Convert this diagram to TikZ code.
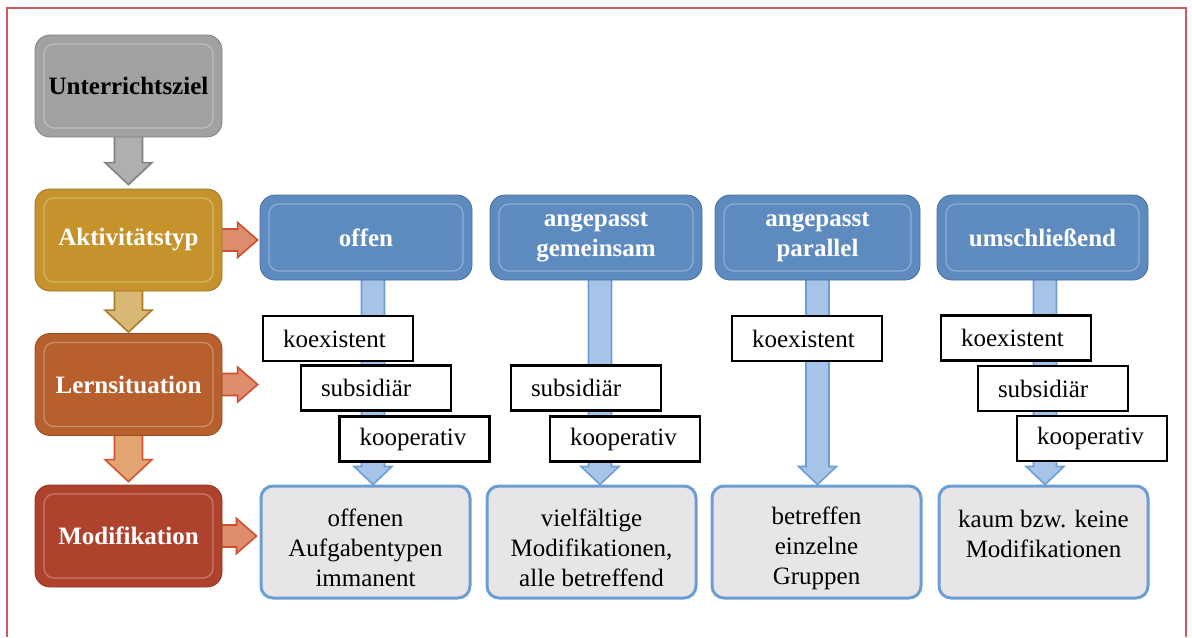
\documentclass[tikz,border=0pt]{standalone}
\usepackage{fontspec}
\setmainfont{Liberation Serif}
\usetikzlibrary{calc,backgrounds}

\definecolor{zielgray}{RGB}{161,161,161}
\definecolor{aktgold}{RGB}{197,146,43}
\definecolor{lernorange}{RGB}{183,96,46}
\definecolor{modred}{RGB}{174,66,45}
\definecolor{headblue}{RGB}{93,139,192}
\definecolor{resgray}{RGB}{231,229,231}
\definecolor{resblue}{RGB}{108,158,214}
\definecolor{arrblue}{RGB}{166,196,232}
\definecolor{arrsalmon}{RGB}{222,142,108}
\definecolor{arrred}{RGB}{206,78,48}
\definecolor{arrorange}{RGB}{226,164,112}
\definecolor{framered}{RGB}{205,90,95}

\newcommand{\figfont}{\fontsize{12.5pt}{15pt}\selectfont}

% block arrows: {style}{from}{to}{half shaft}{half head}{head length}
\newcommand{\blockdown}[6]{%
  \draw[#1] let \p1=#2, \p2=#3 in
    (\x1-#4,\y1) -- (\x1-#4,\y2+#6) -- (\x1-#5,\y2+#6) -- (\x1,\y2)
    -- (\x1+#5,\y2+#6) -- (\x1+#4,\y2+#6) -- (\x1+#4,\y1) -- cycle;}
\newcommand{\blockright}[6]{%
  \draw[#1] let \p1=#2, \p2=#3 in
    (\x1,\y1+#4) -- (\x2-#6,\y1+#4) -- (\x2-#6,\y1+#5) -- (\x2,\y1)
    -- (\x2-#6,\y1-#5) -- (\x2-#6,\y1-#4) -- (\x1,\y1-#4) -- cycle;}

\tikzset{
  bevel/.style={path picture={
    \draw[white, opacity=0.3, line width=0.6pt, rounded corners=5pt]
      ([shift={(4.5pt,-4.5pt)}]path picture bounding box.north west) rectangle
      ([shift={(-4.5pt,4.5pt)}]path picture bounding box.south east);}},
  stage/.style={fill=#1, draw=#1!80!black, rounded corners=7.5pt,
    minimum width=93.5pt, minimum height=51pt, font=\figfont\bfseries,
    text=white, bevel},
  header/.style={fill=headblue, draw=headblue!80!black, rounded corners=7.5pt,
    minimum width=106pt, minimum height=42.5pt, font=\figfont\bfseries,
    text=white, align=center, bevel},
  result/.style={fill=resgray, draw=resblue, line width=1.5pt, rounded corners=6pt,
    minimum width=104.5pt, minimum height=56pt, align=center, font=\figfont},
  tag/.style={draw=black, line width=1.2pt, fill=white, text width=55pt,
    align=left, inner xsep=10pt, minimum height=22.5pt, font=\figfont},
  grayarr/.style={fill=zielgray!85!white, draw=zielgray!80!black, line width=0.8pt},
  goldarr/.style={fill=aktgold!65!white, draw=aktgold!85!black, line width=0.8pt},
  orangearr/.style={fill=arrorange, draw=arrred!90!orange, line width=0.8pt},
  sidearr/.style={fill=arrsalmon, draw=arrred, line width=0.8pt},
  bluearr/.style={fill=arrblue, draw=resblue, line width=0.8pt},
}

\begin{document}
\begin{tikzpicture}[x=0.5pt, y=-0.5pt, font=\figfont]
\useasboundingbox (0,0) rectangle (1192,637);

% frame
\draw[framered, line width=0.8pt] (7,637) -- (7,8) -- (1186,8) -- (1186,637);

% stages on the left
\def\lx{128.5}
\node[stage=zielgray, text=black] (ziel) at (\lx,86) {Unterrichtsziel};
\node[stage=aktgold] (akt) at (\lx,240) {Aktivitätstyp};
\node[stage=lernorange] (lern) at (\lx,384.5) {Lernsituation};
\node[stage=modred] (mod) at (\lx,536) {Modifikation};

% activity types
\foreach \n/\x/\w/\txt in {head1/366/106/offen,
    head2/596/106/{angepasst\\gemeinsam},
    head3/817.5/102.5/{angepasst\\parallel},
    head4/1042.5/105.5/umschließend}
  \node[header, minimum width=\w pt] (\n) at (\x,237.5) {\txt};

% modifications (first line a bit lower)
\foreach \n/\x/\txt in {res1/365.5/{offenen\\Aufgabentypen\\immanent},
    res2/591.5/{vielfältige\\Modifikationen,\\alle betreffend},
    res3/816.5/{betreffen\\einzelne\\Gruppen},
    res4/1043.5/{kaum bzw. keine\\Modifikationen\\\mbox{}}}
  \node[result] (\n) at (\x,542) {\rule{0pt}{15pt}\txt};

% learning situations
\foreach \n/\x/\y/\txt in {
    koex1/338/338.5/koexistent, subs1/376/388/subsidiär, koop1/414.5/439/kooperativ,
    subs2/586/388/subsidiär, koop2/625/439/kooperativ,
    koex3/807/338.5/koexistent,
    koex4/1016/338/koexistent, subs4/1053/388.5/subsidiär, koop4/1092/438.5/kooperativ}
  \node[tag] (\n) at (\x,\y) {\txt};

% block arrows behind the boxes
\begin{scope}[on background layer]
  \blockdown{grayarr}{($(ziel.south)+(0,-5)$)}{($(akt.north)+(0,-4)$)}{7pt}{11.75pt}{11pt}
  \blockdown{goldarr}{($(akt.south)+(0,-5)$)}{($(lern.north)+(0,-1)$)}{7pt}{11.75pt}{11pt}
  \blockdown{orangearr}{($(lern.south)+(0,-5)$)}{($(mod.north)+(0,-3)$)}{7pt}{11.75pt}{11pt}
  \blockright{sidearr}{($(akt.east)+(-12,0)$)}{($(head1.west)+(-2,0)$)}{5.5pt}{8.75pt}{10pt}
  \blockright{sidearr}{($(lern.east)+(-12,0)$)}{($(head1.west)+(-2,0)$)}{5.5pt}{8.75pt}{10pt}
  \blockright{sidearr}{($(mod.east)+(-12,0)$)}{($(res1.west)+(-3,0)$)}{5.5pt}{8.75pt}{10pt}
  \blockdown{bluearr}{($(head1.south)+(7,-12)$)}{(res1.north)}{5.75pt}{9.5pt}{9pt}
  \blockdown{bluearr}{($(head2.south)+(4,-12)$)}{(res2.north)}{5.75pt}{9.5pt}{9pt}
  \blockdown{bluearr}{($(head3.south)+(0,-12)$)}{(res3.north)}{5.75pt}{9.5pt}{9pt}
  \blockdown{bluearr}{($(head4.south)+(2.5,-12)$)}{(res4.north)}{5.75pt}{9.5pt}{9pt}
\end{scope}

\end{tikzpicture}
\end{document}
